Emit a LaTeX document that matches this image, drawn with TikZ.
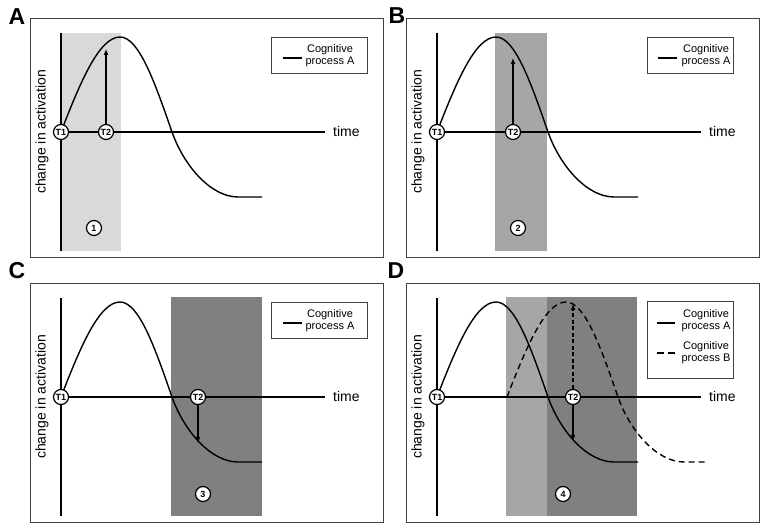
\documentclass[tikz,border=0pt]{standalone}
\usepackage{fontspec}
\setmainfont{Liberation Sans}
\usetikzlibrary{arrows.meta}

\definecolor{winlight}{HTML}{D9D9D9}
\definecolor{winmid}{HTML}{A6A6A6}
\definecolor{windark}{HTML}{808080}

\tikzset{
  pics/actcurve/.style={code={
    \draw[line width=1.4pt] (0,0) .. controls (19,49) and (38,95) .. (59,95)
      .. controls (78,95) and (94,49) .. (111,0)
      .. controls (123,-34) and (150,-65) .. (177,-65) -- (201,-65);
  }}
}

\begin{document}
\begin{tikzpicture}[x=1pt, y=1pt,
  frame/.style={draw=black!75, line width=0.8pt},
  axis/.style={line width=1.4pt},
  tmark/.style={circle, draw, fill=white, line width=1.2pt, inner sep=0pt,
    minimum size=15pt, font=\bfseries\fontsize{9}{9}\selectfont},
  legbox/.style={draw=black!75, line width=0.8pt, fill=white, inner sep=0pt},
  legtext/.style={align=center, inner sep=0pt, font=\fontsize{11}{12}\selectfont},
  axlabel/.style={inner sep=0pt, font=\fontsize{14}{14}\selectfont},
  arr/.style={line width=1.4pt, -{Latex[length=6pt,width=5pt]}},
  letter/.style={inner sep=0pt, font=\bfseries\fontsize{23}{23}\selectfont}]
\useasboundingbox (0,0) rectangle (779,532);

% shaded time windows
\fill[winlight] (61,281) rectangle (121,499);
\fill[winmid] (495,281) rectangle (547,499);
\fill[windark] (171,16) rectangle (262,235);
\fill[winmid] (506,16) rectangle (547,235);
\fill[windark] (547,16) rectangle (637,235);

% common parts of the four panels
\foreach \p/\px/\py in {a/61/400, b/437/400, c/61/135, d/437/135}{
  \begin{scope}[shift={(\px,\py)}]
    \draw[frame] (-31,-125) rectangle (322,114);
    \draw[axis] (0,-119) -- (0,99);
    \draw[axis] (0,0) -- (264,0);
    \pic at (0,0) {actcurve};
    \node[tmark] (\p T1) at (0,0) {T1};
    \node[axlabel, anchor=west] (\p time) at (272,0) {time};
    \node[axlabel, rotate=90] (\p ylab) at (-19,0) {change in activation};
  \end{scope}
}

% panel letters
\node[letter] (A) at (17,515) {A};
\node[letter] (B) at (397,516) {B};
\node[letter] (C) at (17,261) {C};
\node[letter] (D) at (396,261) {D};

% A
\begin{scope}[shift={(61,400)}]
  \node[tmark] (aT2) at (45,0) {T2};
  \coordinate (aTip) at (45,83);
  \draw[arr] (aT2) -- (aTip);
  \node[tmark] (aNum) at (33,-96) {1};
  \node[legbox, minimum width=96pt, minimum height=36pt] (aLeg) at (258,77) {};
  \draw[axis] (222,74) -- (241,74);
  \node[legtext] (aLegA) at (269,76) {Cognitive\\process A};
\end{scope}

% B
\begin{scope}[shift={(437,400)}]
  \node[tmark] (bT2) at (76,0) {T2};
  \coordinate (bTip) at (76,74);
  \draw[arr] (bT2) -- (bTip);
  \node[tmark] (bNum) at (81,-96) {2};
  \node[legbox, minimum width=86pt, minimum height=36pt] (bLeg) at (253,77) {};
  \draw[axis] (221,74) -- (240,74);
  \node[legtext] (bLegA) at (269,76) {Cognitive\\process A};
\end{scope}

% C
\begin{scope}[shift={(61,135)}]
  \node[tmark] (cT2) at (137,0) {T2};
  \coordinate (cTip) at (137,-46);
  \draw[arr] (cT2) -- (cTip);
  \node[tmark] (cNum) at (142,-97) {3};
  \node[legbox, minimum width=96pt, minimum height=36pt] (cLeg) at (258,77) {};
  \draw[axis] (222,74) -- (241,74);
  \node[legtext] (cLegA) at (269,76) {Cognitive\\process A};
\end{scope}

% D
\begin{scope}[shift={(437,135)}]
  \pic[dash pattern=on 6pt off 4pt] at (70,0) {actcurve};
  \node[tmark] (dT2) at (136,0) {T2};
  \coordinate (dTipUp) at (136,93);
  \coordinate (dTipDown) at (136,-44);
  \draw[arr, dash pattern=on 4pt off 2.5pt] (dT2) -- (dTipUp);
  \draw[arr] (dT2) -- (dTipDown);
  \node[tmark] (dNum) at (126,-97) {4};
  \node[legbox, minimum width=86pt, minimum height=77pt] (dLeg) at (253,57.5) {};
  \draw[axis] (220,74) -- (238,74);
  \draw[axis, dash pattern=on 7pt off 4pt] (220,44) -- (238,44);
  \node[legtext] (dLegA) at (269,76) {Cognitive\\process A};
  \node[legtext] (dLegB) at (269,44.5) {Cognitive\\process B};
\end{scope}
\end{tikzpicture}
\end{document}
